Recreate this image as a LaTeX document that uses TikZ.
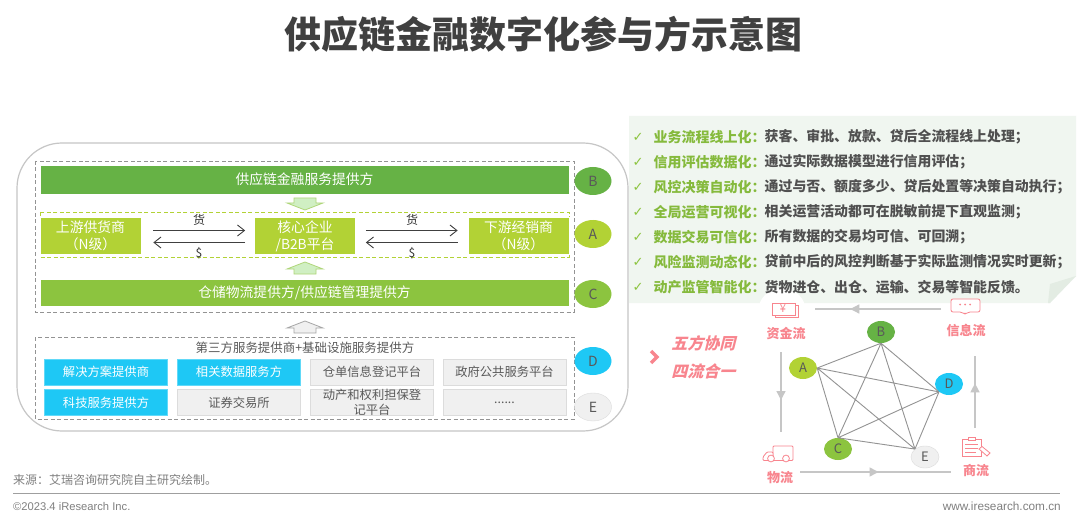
\documentclass[tikz,border=0pt]{standalone}
\usepackage{fontspec}
\setmainfont{Noto Sans CJK SC}
\newfontfamily\latinf{Liberation Sans}
\newfontfamily\symf{DejaVu Sans}
\usetikzlibrary{arrows.meta,decorations.markings,shapes.geometric}
\definecolor{dkgreen}{HTML}{66B245}
\definecolor{midgreen}{HTML}{8CC43F}
\definecolor{lime}{HTML}{B2D235}
\definecolor{cyanb}{HTML}{1EC8F5}
\definecolor{greyb}{HTML}{F0F0F0}
\definecolor{greyl}{HTML}{DCDCDC}
\definecolor{txt}{HTML}{595959}
\definecolor{pinkc}{HTML}{F8858E}
\definecolor{panelc}{HTML}{F0F6F0}
\definecolor{foldc}{HTML}{E3ECE3}
\newcommand{\fs}[2]{\fontsize{#1}{#2}\selectfont}
\newcommand{\blockup}[6]{% cx, tip y, shoulder y, end y, fill, stroke
  \draw[line width=.8pt,fill=#5,draw=#6] (#1,#2) -- (#1+18,#3) -- (#1+11,#3) -- (#1+11,#4) -- (#1-11,#4) -- (#1-11,#3) -- (#1-18,#3) -- cycle;}
\tikzset{
  fillbox/.style={inner sep=0pt,text=white,align=center,font=\fs{13.8}{17},draw=white,line width=.6pt},
  smallbox/.style={inner sep=0pt,align=center,font=\fs{12.3}{14.5},minimum width=123pt,minimum height=26pt},
  cyanbox/.style={smallbox,fill=cyanb,text=white,draw=cyanb!70!white,line width=.6pt},
  greybox/.style={smallbox,fill=greyb,text=txt,draw=greyl,line width=1pt},
  tag/.style={ellipse,inner sep=0pt,minimum width=37pt,minimum height=28pt,text=txt,font=\fs{14}{16}},
  peer/.style={ellipse,inner sep=0pt,minimum width=28pt,minimum height=22pt,text=txt,font=\fs{13}{15}},
  dashbox/.style={draw=gray!85,dashed,dash pattern=on 4pt off 2.5pt,line width=.8pt},
  edgeline/.style={draw=gray!85,line width=.9pt},
  flowline/.style={draw=gray!45,line width=1.4pt,decoration={markings,mark=at position #1 with {\arrow[gray!45]{Triangle[length=9pt,width=9pt]}}},postaction=decorate},
  flowlabel/.style={text=pinkc,inner sep=0pt,font=\bfseries\fs{13}{15}},
  slogan/.style={inner sep=0pt,text=pinkc,font=\bfseries\fs{16}{18},xslant=0.25,transform shape},
  icon/.style={draw=pinkc,line width=.8pt,fill=white},
  swap/.style={draw=black!75,line width=.9pt,-{Straight Barb[length=7pt,width=11pt]}},
  swaplabel/.style={inner sep=0pt,text=black!80,font=\fs{12}{14}},
  chk/.style={inner sep=0pt,text=midgreen,font=\symf\fs{13}{14}},
  lead/.style={anchor=west,inner sep=0pt,text=midgreen!95!black,font=\bfseries\fs{14}{16}},
  desc/.style={anchor=west,inner sep=0pt,text=txt!90!black,font=\bfseries\fs{13.9}{16}},
}
\begin{document}
\begin{tikzpicture}[x=1pt,y=-1pt]
\useasboundingbox[fill=white] (0,0) rectangle (1080,524);
% title
\node[inner sep=0pt,text=black!75,font=\bfseries\fs{37}{40}] (title) at (543,34) {供应链金融数字化参与方示意图};
% outer frame
\draw[draw=gray!45,line width=1.2pt,rounded corners=45pt,fill=white] (17,143) rectangle (628,431);
% dashed groups
\draw[dashbox] (35,161) rectangle (574,312);
\draw[dashbox] (35,337) rectangle (574,419);
\draw[draw=lime,dashed,dash pattern=on 4pt off 2.5pt,line width=.9pt] (40,212) rectangle (569,257);
% bars
\node[fillbox,fill=dkgreen,minimum width=529pt,minimum height=29pt] (fin) at (304.5,179.5) {供应链金融服务提供方};
\node[fillbox,fill=midgreen,minimum width=529pt,minimum height=27pt] (wh) at (304.5,292.5) {仓储物流提供方/供应链管理提供方};
\node[fillbox,fill=lime,minimum width=101pt,minimum height=37pt] (up) at (90.5,236) {上游供货商\\（N级）};
\node[fillbox,fill=lime,minimum width=101pt,minimum height=37pt] (core) at (305,236) {核心企业\\/B2B平台};
\node[fillbox,fill=lime,minimum width=101pt,minimum height=37pt] (down) at (518.5,236) {下游经销商\\（N级）};
% swaps
\draw[swap] ([xshift=12pt,yshift=5.5pt]up.east) -- ([xshift=-9pt,yshift=5.5pt]core.west);
\draw[swap] ([xshift=-9pt,yshift=-6.5pt]core.west) -- ([xshift=12pt,yshift=-6.5pt]up.east);
\draw[swap] ([xshift=10pt,yshift=5.5pt]core.east) -- ([xshift=-10pt,yshift=5.5pt]down.west);
\draw[swap] ([xshift=-10pt,yshift=-6.5pt]down.west) -- ([xshift=10pt,yshift=-6.5pt]core.east);
\node[swaplabel] (g1) at (199,220) {货};
\node[swaplabel] (d1) at (199,253.5) {\$};
\node[swaplabel] (g2) at (412,220) {货};
\node[swaplabel] (d2) at (412,253.5) {\$};
% block arrows
\blockup{305}{210}{203}{198}{green!12!greyb!90!lime}{midgreen!70!white}
\blockup{305}{262}{269}{274}{green!12!greyb!90!lime}{midgreen!70!white}
\blockup{305}{321}{328}{333}{greyb}{gray!70}
% tags
\node[tag,fill=dkgreen] (tb) at (593,181) {B};
\node[tag,fill=lime] (ta) at (593,234) {A};
\node[tag,fill=midgreen] (tc) at (593,294) {C};
\node[tag,fill=cyanb] (td) at (593,361) {D};
\node[tag,fill=greyb,draw=greyl] (te) at (593,407) {E};
% third-party
\node[inner sep=0pt,text=txt,font=\fs{12.45}{14}] (third) at (305,347.5) {第三方服务提供商+基础设施服务提供方};
\node[cyanbox] (s1) at (106,372) {解决方案提供商};
\node[cyanbox] (s2) at (239,372) {相关数据服务方};
\node[greybox] (s3) at (372,372) {仓单信息登记平台};
\node[greybox] (s4) at (504.5,372) {政府公共服务平台};
\node[cyanbox] (s5) at (106,402.5) {科技服务提供方};
\node[greybox] (s6) at (239,402.5) {证券交易所};
\node[greybox] (s7) at (372,402.5) {动产和权利担保登\\记平台};
\node[greybox] (s8) at (504.5,402.5) {\raisebox{-2.5pt}{......}};
% note panel
\fill[panelc] (629,116) -- (1076,116) -- (1076,276) -- (1050,303) -- (629,303) -- cycle;
\fill[foldc] (1076,276) -- (1050,284) -- (1048,303) -- (1050,303) -- cycle;
\fill[white] (782,312) circle (24);
\foreach \yy/\a/\b [count=\i] in {
 137/业务流程线上化：/获客、审批、放款、贷后全流程线上处理；,
 162/信用评估数据化：/通过实际数据模型进行信用评估；,
 187/风控决策自动化：/通过与否、额度多少、贷后处置等决策自动执行；,
 212/全局运营可视化：/相关运营活动都可在脱敏前提下直观监测；,
 237/数据交易可信化：/所有数据的交易均可信、可回溯；,
 262/风险监测动态化：/贷前中后的风控判断基于实际监测情况实时更新；,
 287/动产监管智能化：/货物进仓、出仓、运输、交易等智能反馈。}{
  \node[chk] (k\i) at (638,\yy) {✓};
  \node[lead] (l\i) at (653.5,\yy) {\a};
  \node[desc] (r\i) at (764.5,\yy) {\b};
}
% pink slogan
\draw[draw=pinkc,line width=3.4pt] (651,351) -- (657,357) -- (651,363);
\node[slogan] (w1) at (705,343) {五方协同};
\node[slogan] (w2) at (705,371) {四流合一};
% network
\node[peer,fill=lime] (a) at (803,368) {A};
\node[peer,fill=dkgreen] (b) at (881,332) {B};
\node[peer,fill=cyanb] (dd) at (949,384) {D};
\node[peer,fill=greyb,draw=greyl] (e) at (925,457) {E};
\node[peer,fill=midgreen] (c) at (838,449) {C};
\coordinate (pa) at (a.east);
\coordinate (pb) at (b.south);
\coordinate (pd) at (dd.south west);
\coordinate (pe) at (e.north west);
\coordinate (pc) at (c.north);
\draw[edgeline] (pa)--(pb) (pa)--(pc) (pa)--(pd) (pa)--(pe) (pb)--(pc) (pb)--(pd) (pb)--(pe) (pc)--(pd) (pc)--(pe) (pd)--(pe);
% flow labels
\node[flowlabel] (fm) at (786,333) {资金流};
\node[flowlabel] (fi) at (966,331) {信息流};
\node[flowlabel] (fw) at (780,478) {物流};
\node[flowlabel] (fs) at (976,470) {商流};
% flow arrows
\coordinate (f1s) at (941,309); \coordinate (f1e) at (815,309);
\coordinate (f2s) at (781,352); \coordinate (f2e) at (781,432);
\coordinate (f3s) at (800,472); \coordinate (f3e) at (951,472);
\coordinate (f4s) at (975,428); \coordinate (f4e) at (975,356);
\draw[flowline=.72] (f1s) -- (f1e);
\draw[flowline=.6] (f2s) -- (f2e);
\draw[flowline=.52] (f3s) -- (f3e);
\draw[flowline=.62] (f4s) -- (f4e);
% money icon
\draw[icon] (775,305) rectangle (798,317);
\draw[icon] (772,303) rectangle (795,315);
\node[inner sep=0pt,text=pinkc,font=\fs{11}{12}] (yen) at (783,309) {¥};
% chat icon
\draw[icon,rounded corners=2pt] (951,299) -- (980,299) -- (980,312) -- (968,312) -- (965,314.5) -- (962,312) -- (951,312) -- cycle;
\fill[pinkc] (960,304.5) circle (1) (965,304.5) circle (1) (970,304.5) circle (1);
% truck icon
\draw[icon,rounded corners=1pt] (773,446) rectangle (793,460.5);
\draw[icon,rounded corners=1pt] (773,452) -- (767,452) -- (763,457) -- (763,460.5) -- (773,460.5) -- cycle;
\draw[icon] (771,458.5) circle (3.4) (786,458.5) circle (3.4);
% clipboard icon
\draw[icon] (962,439) rectangle (981,456);
\draw[icon] (968,437) rectangle (975,440);
\draw[draw=pinkc,line width=.6pt] (965,444) -- (978,444) (965,448) -- (978,448) (965,452) -- (976,452);
\draw[icon] (979,449) -- (982,446.5) -- (990,453) -- (987,456) -- cycle;
% footer
\node[anchor=west,inner sep=0pt,text=gray,font=\fs{12}{14}] (src) at (13,480) {来源：艾瑞咨询研究院自主研究绘制。};
\coordinate (ruleL) at (13,493); \coordinate (ruleR) at (1060,493);
\draw[draw=gray!75,line width=.9pt] (ruleL) -- (ruleR);
\node[anchor=west,inner sep=0pt,text=gray,font=\latinf\fs{11.2}{13}] (cr) at (13,506) {©2023.4 iResearch Inc.};
\node[anchor=east,inner sep=0pt,text=gray,font=\latinf\fs{11.8}{13}] (web) at (1061,506) {www.iresearch.com.cn};
\end{tikzpicture}
\end{document}
